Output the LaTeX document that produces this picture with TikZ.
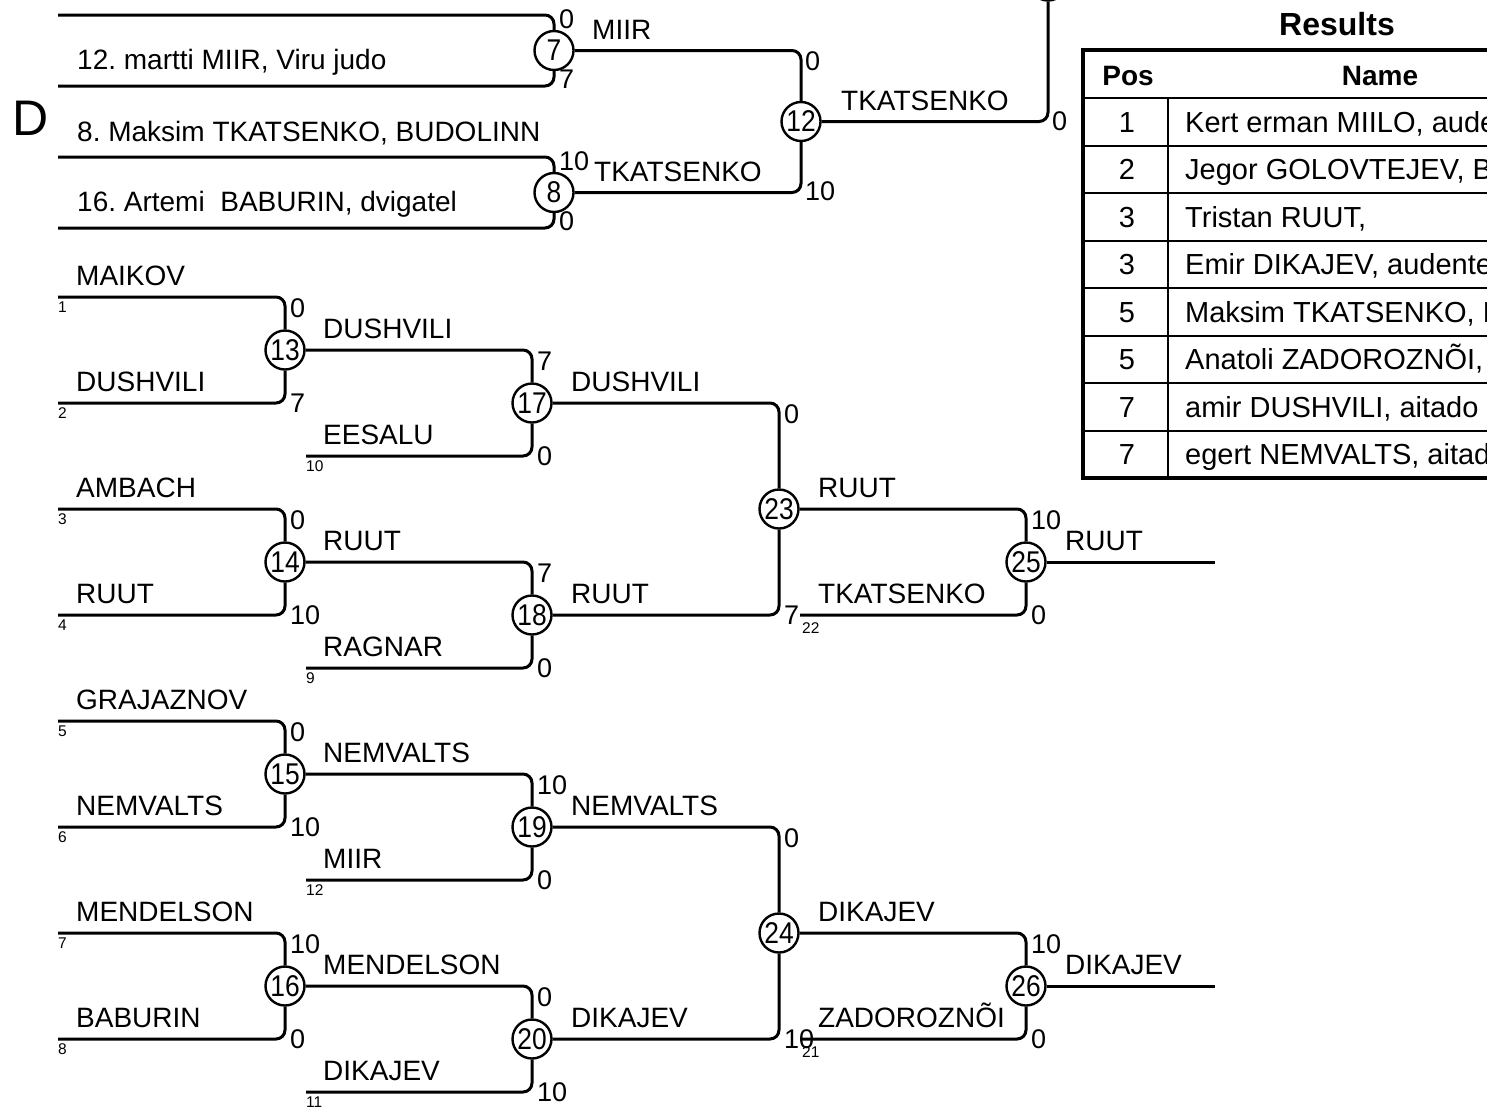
\documentclass[tikz,border=0pt]{standalone}
\usepackage{fontspec}
\setmainfont{Liberation Sans}
\frenchspacing
\newcommand\cnum[1]{\scalebox{0.88}[1]{#1}}
\begin{document}
\begin{tikzpicture}[x=1pt,y=-1pt,
  mt/.style={circle,draw,line width=2.4pt,minimum size=39pt,inner sep=0pt,font=\fontsize{30}{30}\selectfont},
  br/.style={line width=3pt,rounded corners=9pt},
  nm/.style={anchor=base west,inner sep=0pt,font=\fontsize{28}{28}\selectfont},
  sc/.style={anchor=base west,inner sep=0pt,font=\fontsize{27}{27}\selectfont},
  sd/.style={anchor=base west,inner sep=0pt,font=\fontsize{15.5}{15.5}\selectfont},
  tb/.style={inner sep=0pt,font=\fontsize{29}{29}\selectfont},
  th/.style={inner sep=0pt,anchor=base,font=\bfseries\fontsize{28}{28}\selectfont},
  rowline/.style={line width=2.4pt},
  frame/.style={line width=4.5pt}
]
\useasboundingbox (0,0) rectangle (1487,1117);
\clip (0,0) rectangle (1487,1117);

% ---------- top section ----------
\node[anchor=base west,inner sep=0pt,font=\fontsize{50}{50}\selectfont] (D) at (12,135) {D};

\node[mt] (m7) at (554,50.5) {\cnum{7}};
\node[mt] (m8) at (554,192.5) {\cnum{8}};
\node[mt] (m12) at (801,121.5) {\cnum{12}};
\node[mt] (mtop) at (1048,-19) {};

\coordinate (t1) at (58,15);
\coordinate (t2) at (58,86);
\coordinate (t3) at (58,157);
\coordinate (t4) at (58,228);

\draw[br] (t1) -| (m7.north);
\draw[br] (t2) -| (m7.south);
\draw[br] (t3) -| (m8.north);
\draw[br] (t4) -| (m8.south);
\draw[br] (m7.east) -| (m12.north);
\draw[br] (m8.east) -| (m12.south);
\draw[br] (m12.east) -| (mtop.south);

\node[nm] (n12) at (77,69) {12. martti MIIR, Viru judo};
\node[nm] (n8) at (77,141) {8. Maksim TKATSENKO, BUDOLINN};
\node[nm] (n16) at (77,211) {16. Artemi\ \ BABURIN, dvigatel};

\node[sc] (k7a) at (559,28) {0};
\node[sc] (k7b) at (559,88) {7};
\node[sc] (k8a) at (559,170) {10};
\node[sc] (k8b) at (559,230) {0};
\node[sc] (k12a) at (805,70) {0};
\node[sc] (k12b) at (805,200) {10};
\node[sc] (ktop) at (1052,130) {0};

\node[nm] (w7) at (592,39) {MIIR};
\node[nm] (w8) at (594,181) {TKATSENKO};
\node[nm] (w12) at (841,110) {TKATSENKO};

% ---------- bottom bracket ----------
\node[mt] (c13) at (285,350) {\cnum{13}};
\node[mt] (c14) at (285,562) {\cnum{14}};
\node[mt] (c15) at (285,774) {\cnum{15}};
\node[mt] (c16) at (285,986) {\cnum{16}};
\node[mt] (c17) at (532,403) {\cnum{17}};
\node[mt] (c18) at (532,615) {\cnum{18}};
\node[mt] (c19) at (532,827) {\cnum{19}};
\node[mt] (c20) at (532,1039) {\cnum{20}};
\node[mt] (c23) at (779,509) {\cnum{23}};
\node[mt] (c24) at (779,933) {\cnum{24}};
\node[mt] (c25) at (1026,562) {\cnum{25}};
\node[mt] (c26) at (1026,986) {\cnum{26}};

\coordinate (s1) at (58,297);
\coordinate (s2) at (58,403);
\coordinate (s3) at (58,509);
\coordinate (s4) at (58,615);
\coordinate (s5) at (58,721);
\coordinate (s6) at (58,827);
\coordinate (s7) at (58,933);
\coordinate (s8) at (58,1039);
\coordinate (s10) at (306,456);
\coordinate (s9) at (306,668);
\coordinate (s12) at (306,880);
\coordinate (s11) at (306,1092);
\coordinate (s22) at (800,615);
\coordinate (s21) at (800,1039);
\coordinate (e25) at (1215,562);
\coordinate (e26) at (1215,986);

\draw[br] (s1) -| (c13.north);
\draw[br] (s2) -| (c13.south);
\draw[br] (s3) -| (c14.north);
\draw[br] (s4) -| (c14.south);
\draw[br] (s5) -| (c15.north);
\draw[br] (s6) -| (c15.south);
\draw[br] (s7) -| (c16.north);
\draw[br] (s8) -| (c16.south);
\draw[br] (c13.east) -| (c17.north);
\draw[br] (s10) -| (c17.south);
\draw[br] (c14.east) -| (c18.north);
\draw[br] (s9) -| (c18.south);
\draw[br] (c15.east) -| (c19.north);
\draw[br] (s12) -| (c19.south);
\draw[br] (c16.east) -| (c20.north);
\draw[br] (s11) -| (c20.south);
\draw[br] (c17.east) -| (c23.north);
\draw[br] (c18.east) -| (c23.south);
\draw[br] (c19.east) -| (c24.north);
\draw[br] (c20.east) -| (c24.south);
\draw[br] (c23.east) -| (c25.north);
\draw[br] (s22) -| (c25.south);
\draw[br] (c24.east) -| (c26.north);
\draw[br] (s21) -| (c26.south);
\draw[br] (c25.east) -- (e25);
\draw[br] (c26.east) -- (e26);

% names, first round
\node[nm] (a1) at (76,285) {MAIKOV};
\node[nm] (a2) at (76,391) {DUSHVILI};
\node[nm] (a3) at (76,497) {AMBACH};
\node[nm] (a4) at (76,603) {RUUT};
\node[nm] (a5) at (76,709) {GRAJAZNOV};
\node[nm] (a6) at (76,815) {NEMVALTS};
\node[nm] (a7) at (76,921) {MENDELSON};
\node[nm] (a8) at (76,1027) {BABURIN};
% second round entries
\node[nm] (a10) at (323,444) {EESALU};
\node[nm] (a9) at (323,656) {RAGNAR};
\node[nm] (a12) at (323,868) {MIIR};
\node[nm] (a11) at (323,1080) {DIKAJEV};
\node[nm] (a22) at (818,603) {TKATSENKO};
\node[nm] (a21) at (818,1027) {ZADOROZNÕI};
% winners
\node[nm] (w13) at (323,338) {DUSHVILI};
\node[nm] (w14) at (323,550) {RUUT};
\node[nm] (w15) at (323,762) {NEMVALTS};
\node[nm] (w16) at (323,974) {MENDELSON};
\node[nm] (w17) at (571,391) {DUSHVILI};
\node[nm] (w18) at (571,603) {RUUT};
\node[nm] (w19) at (571,815) {NEMVALTS};
\node[nm] (w20) at (571,1027) {DIKAJEV};
\node[nm] (w23) at (818,497) {RUUT};
\node[nm] (w24) at (818,921) {DIKAJEV};
\node[nm] (w25) at (1065,550) {RUUT};
\node[nm] (w26) at (1065,974) {DIKAJEV};

% seeds
\node[sd] (d1) at (58,312) {1};
\node[sd] (d2) at (58,418) {2};
\node[sd] (d3) at (58,524) {3};
\node[sd] (d4) at (58,630) {4};
\node[sd] (d5) at (58,736) {5};
\node[sd] (d6) at (58,842) {6};
\node[sd] (d7) at (58,948) {7};
\node[sd] (d8) at (58,1054) {8};
\node[sd] (d10) at (306,471) {10};
\node[sd] (d9) at (306,683) {9};
\node[sd] (d12) at (306,895) {12};
\node[sd] (d11) at (306,1107) {11};
\node[sd] (d22) at (802,633) {22};
\node[sd] (d21) at (802,1057) {21};

% scores
\node[sc] (k13a) at (290,317) {0};
\node[sc] (k13b) at (290,412) {7};
\node[sc] (k14a) at (290,529) {0};
\node[sc] (k14b) at (290,624) {10};
\node[sc] (k15a) at (290,741) {0};
\node[sc] (k15b) at (290,836) {10};
\node[sc] (k16a) at (290,953) {10};
\node[sc] (k16b) at (290,1048) {0};
\node[sc] (k17a) at (537,370) {7};
\node[sc] (k17b) at (537,465) {0};
\node[sc] (k18a) at (537,582) {7};
\node[sc] (k18b) at (537,677) {0};
\node[sc] (k19a) at (537,794) {10};
\node[sc] (k19b) at (537,889) {0};
\node[sc] (k20a) at (537,1006) {0};
\node[sc] (k20b) at (537,1101) {10};
\node[sc] (k23a) at (784,423) {0};
\node[sc] (k23b) at (784,624) {7};
\node[sc] (k24a) at (784,847) {0};
\node[sc] (k24b) at (784,1048) {10};
\node[sc] (k25a) at (1031,529) {10};
\node[sc] (k25b) at (1031,624) {0};
\node[sc] (k26a) at (1031,953) {10};
\node[sc] (k26b) at (1031,1048) {0};

% ---------- results table ----------
\node[anchor=base,inner sep=0pt,font=\bfseries\fontsize{32}{32}\selectfont] (res) at (1337,35) {Results};
\foreach \yy in {98,146,193,241,288,336,383,431}
  \draw[rowline] (1083,\yy) -- (1500,\yy);
\draw[rowline] (1168,98) -- (1168,478);
\draw[frame] (1500,50) -- (1083,50) -- (1083,478) -- (1500,478);
\node[th] (hpos) at (1128,85) {Pos};
\node[th] (hname) at (1380,85) {Name};
\foreach \p/\nme/\yy [count=\i] in {
  1/{Kert erman MIILO, aude}/132,
  2/{Jegor GOLOVTEJEV, B}/179.5,
  3/{Tristan RUUT,}/227,
  3/{Emir DIKAJEV, audente}/274.5,
  5/{Maksim TKATSENKO, B}/322,
  5/{Anatoli ZADOROZNÕI, a}/369.5,
  7/{amir DUSHVILI, aitado}/417,
  7/{egert NEMVALTS, aitad}/464.5}{
  \node[tb,anchor=base] (rp\i) at (1127,\yy) {\p};
  \node[tb,anchor=base west] (rn\i) at (1185,\yy) {\nme};
}
\end{tikzpicture}
\end{document}
